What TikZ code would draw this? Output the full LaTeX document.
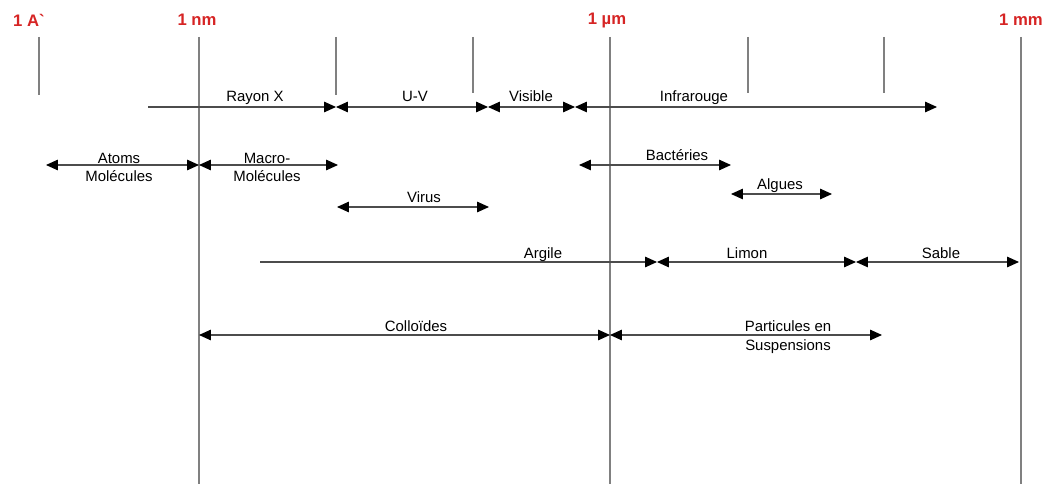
\documentclass[tikz,border=0pt]{standalone}
\usepackage{fontspec}
\setmainfont{Liberation Sans}
\usetikzlibrary{arrows.meta}
\definecolor{unitred}{RGB}{214,36,36}

\begin{document}
\begin{tikzpicture}[x=0.02cm, y=-0.02cm,
  >={Triangle[length=6.8pt,width=6pt,color=black]},
  tick/.style={draw=black!50, line width=0.6pt},
  span/.style={draw=black!70, line width=0.6pt},
  unit/.style={inner sep=0pt, text=unitred, font=\fontsize{9.5}{11}\selectfont\bfseries},
  band/.style={inner sep=0pt, align=center, anchor=base, font=\fontsize{8.5}{10.4}\selectfont}]
  \useasboundingbox (0,0) rectangle (1048,486);

  % scale marks
  \node[unit] (ang) at (29,20) {1 A\textasciigrave};
  \node[unit] (nm) at (197,20) {1 nm};
  \node[unit] (um) at (607,20) {1 µm};
  \node[unit] (mm) at (1021,20) {1 mm};

  \coordinate (ang-t) at (39,37);   \coordinate (ang-b) at (39,95);
  \coordinate (nm-t) at (199,37);   \coordinate (nm-b) at (199,484);
  \coordinate (t1-t) at (336,37);   \coordinate (t1-b) at (336,95);
  \coordinate (t2-t) at (473,37);   \coordinate (t2-b) at (473,93);
  \coordinate (um-t) at (610,37);   \coordinate (um-b) at (610,484);
  \coordinate (t3-t) at (748,37);   \coordinate (t3-b) at (748,93);
  \coordinate (t4-t) at (884,37);   \coordinate (t4-b) at (884,93);
  \coordinate (mm-t) at (1021,37);  \coordinate (mm-b) at (1021,484);

  \draw[tick] (ang-t) -- (ang-b);
  \draw[tick] (nm-t) -- (nm-b);
  \draw[tick] (t1-t) -- (t1-b);
  \draw[tick] (t2-t) -- (t2-b);
  \draw[tick] (um-t) -- (um-b);
  \draw[tick] (t3-t) -- (t3-b);
  \draw[tick] (t4-t) -- (t4-b);
  \draw[tick] (mm-t) -- (mm-b);

  % rayonnements
  \coordinate (rx-a) at (148,107);
  \coordinate (rx-b) at (336,107);
  \coordinate (uv-b) at (488,107);
  \coordinate (vis-b) at (575,107);
  \coordinate (ir-b) at (937,107);
  \draw[span, ->] (rx-a) -- (rx-b);
  \draw[span, <->] (rx-b) -- (uv-b);
  \draw[span, <->] (uv-b) -- (vis-b);
  \draw[span, <->] (vis-b) -- (ir-b);
  \node[band] (rx) at (255,102) {Rayon X};
  \node[band] (uv) at (415,102) {U-V};
  \node[band] (vis) at (531,102) {Visible};
  \node[band] (ir) at (694,102) {Infrarouge};

  % molecules, organismes
  \coordinate (at-a) at (46,165);
  \coordinate (at-b) at (199,165);
  \coordinate (mac-b) at (338,165);
  \draw[span, <->] (at-a) -- (at-b);
  \draw[span, <->] (at-b) -- (mac-b);
  \node[band] (atoms) at (119,182) {Atoms\\Molécules};
  \node[band] (macro) at (267,182) {Macro-\\Molécules};

  \coordinate (bac-a) at (579,165);
  \coordinate (bac-b) at (731,165);
  \draw[span, <->] (bac-a) -- (bac-b);
  \node[band] (bac) at (677,161) {Bactéries};

  \coordinate (alg-a) at (731,194);
  \coordinate (alg-b) at (832,194);
  \draw[span, <->] (alg-a) -- (alg-b);
  \node[band] (alg) at (780,190) {Algues};

  \coordinate (vir-a) at (337,207);
  \coordinate (vir-b) at (489,207);
  \draw[span, <->] (vir-a) -- (vir-b);
  \node[band] (vir) at (424,203) {Virus};

  % sol
  \coordinate (arg-a) at (260,262);
  \coordinate (arg-b) at (657,262);
  \coordinate (lim-b) at (856,262);
  \coordinate (sab-b) at (1019,262);
  \draw[span, ->] (arg-a) -- (arg-b);
  \draw[span, <->] (arg-b) -- (lim-b);
  \draw[span, <->] (lim-b) -- (sab-b);
  \node[band] (arg) at (543,258) {Argile};
  \node[band] (lim) at (747,258) {Limon};
  \node[band] (sab) at (941,258) {Sable};

  % colloides
  \coordinate (col-a) at (199,335);
  \coordinate (col-b) at (610,335);
  \coordinate (sus-b) at (882,335);
  \draw[span, <->] (col-a) -- (col-b);
  \draw[span, <->] (col-b) -- (sus-b);
  \node[band] (col) at (416,331) {Colloïdes};
  \node[band] (sus) at (788,350) {Particules en\\Suspensions};
\end{tikzpicture}
\end{document}
